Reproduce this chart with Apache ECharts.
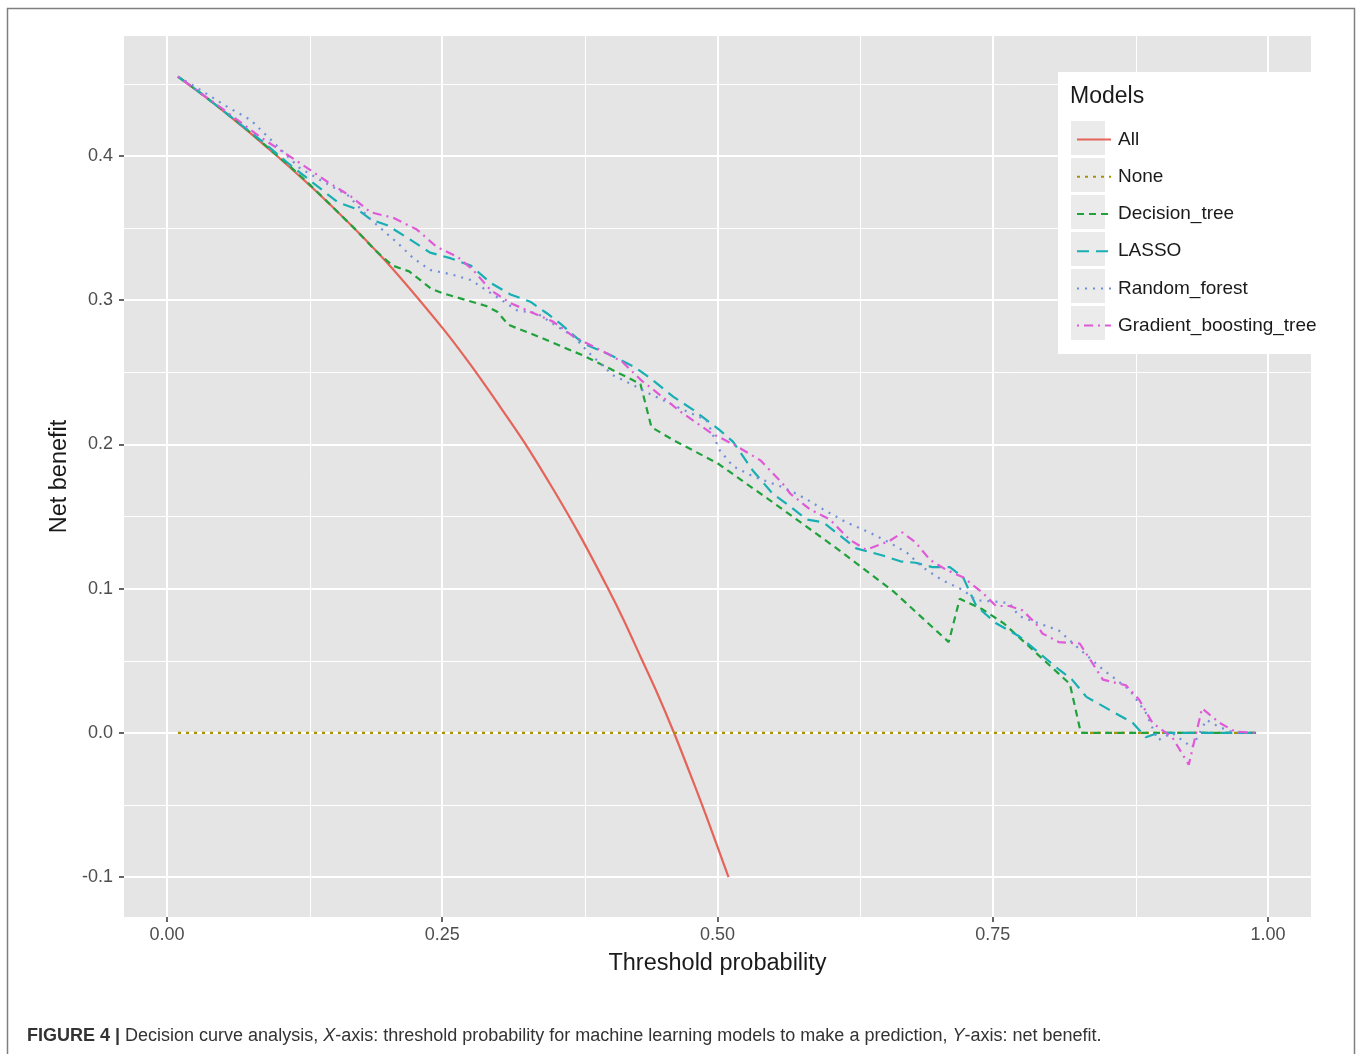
<!DOCTYPE html>
<html>
<head>
<meta charset="utf-8">
<title>Decision curve analysis</title>
<script src="https://cdn.jsdelivr.net/npm/echarts@6/dist/echarts.min.js"></script>
<style>
  html, body { margin: 0; padding: 0; background: #fff; }
  #chart { width: 1358px; height: 1054px; }
</style>
</head>
<body>
<div id="chart"></div>
<script>
// Net benefit curves by threshold probability
const modelNames = ['All', 'None', 'Decision_tree', 'LASSO', 'Random_forest', 'Gradient_boosting_tree'];

const allX = [0.01, 0.05, 0.10, 0.15, 0.20, 0.25, 0.275, 0.30, 0.325, 0.35, 0.375, 0.40, 0.415, 0.43, 0.445, 0.46, 0.475, 0.49, 0.51];
const allY = [0.455, 0.432, 0.400, 0.365, 0.326, 0.281, 0.256, 0.229, 0.201, 0.170, 0.137, 0.101, 0.078, 0.053, 0.028, 0.001, -0.028, -0.058, -0.100];

const noneX = [0.01, 0.99];
const noneY = [0.000, 0.000];

const treeX = [0.01, 0.03, 0.05, 0.07, 0.09, 0.11, 0.13, 0.15, 0.17, 0.19, 0.205, 0.22, 0.24, 0.25, 0.29, 0.30, 0.31, 0.34, 0.38, 0.43, 0.44, 0.46, 0.50, 0.55, 0.61, 0.66, 0.71, 0.72, 0.74, 0.76, 0.79, 0.82, 0.83, 0.99];
const treeY = [0.455, 0.444, 0.432, 0.420, 0.407, 0.394, 0.380, 0.365, 0.350, 0.334, 0.324, 0.320, 0.308, 0.305, 0.296, 0.292, 0.283, 0.274, 0.261, 0.242, 0.212, 0.203, 0.187, 0.160, 0.127, 0.098, 0.063, 0.093, 0.086, 0.076, 0.055, 0.034, 0.000, 0.000];

const lassoX = [0.01, 0.03, 0.05, 0.07, 0.09, 0.11, 0.13, 0.155, 0.173, 0.185, 0.20, 0.221, 0.239, 0.258, 0.276, 0.294, 0.312, 0.33, 0.345, 0.357, 0.378, 0.40, 0.424, 0.439, 0.46, 0.478, 0.502, 0.514, 0.532, 0.55, 0.566, 0.581, 0.596, 0.626, 0.65, 0.666, 0.68, 0.695, 0.711, 0.723, 0.735, 0.753, 0.774, 0.81, 0.822, 0.835, 0.856, 0.877, 0.889, 0.90, 0.99];
const lassoY = [0.455, 0.444, 0.432, 0.420, 0.408, 0.395, 0.383, 0.368, 0.363, 0.356, 0.352, 0.342, 0.333, 0.329, 0.324, 0.312, 0.304, 0.299, 0.291, 0.284, 0.270, 0.263, 0.254, 0.246, 0.233, 0.224, 0.210, 0.202, 0.182, 0.166, 0.157, 0.148, 0.146, 0.128, 0.123, 0.119, 0.118, 0.115, 0.115, 0.108, 0.088, 0.076, 0.067, 0.044, 0.037, 0.025, 0.016, 0.007, -0.003, 0.000, 0.000];

const forestX = [0.01, 0.03, 0.055, 0.076, 0.10, 0.12, 0.14, 0.164, 0.185, 0.209, 0.224, 0.239, 0.258, 0.276, 0.294, 0.318, 0.336, 0.354, 0.369, 0.384, 0.405, 0.424, 0.436, 0.469, 0.49, 0.502, 0.514, 0.532, 0.557, 0.566, 0.581, 0.596, 0.617, 0.638, 0.656, 0.672, 0.686, 0.704, 0.723, 0.735, 0.753, 0.765, 0.774, 0.792, 0.81, 0.826, 0.85, 0.874, 0.889, 0.90, 0.913, 0.931, 0.944, 0.956, 0.97, 0.99];
const forestY = [0.455, 0.446, 0.434, 0.425, 0.407, 0.392, 0.383, 0.373, 0.356, 0.340, 0.329, 0.321, 0.318, 0.314, 0.305, 0.293, 0.291, 0.282, 0.275, 0.263, 0.248, 0.241, 0.236, 0.224, 0.217, 0.196, 0.185, 0.178, 0.171, 0.168, 0.162, 0.155, 0.146, 0.139, 0.132, 0.125, 0.115, 0.106, 0.099, 0.092, 0.091, 0.090, 0.081, 0.076, 0.071, 0.060, 0.044, 0.030, 0.014, -0.005, 0.000, -0.010, 0.009, 0.004, 0.000, 0.000];

const boostX = [0.01, 0.03, 0.05, 0.085, 0.121, 0.146, 0.167, 0.185, 0.206, 0.227, 0.245, 0.264, 0.278, 0.294, 0.312, 0.333, 0.351, 0.369, 0.40, 0.414, 0.43, 0.445, 0.466, 0.481, 0.496, 0.502, 0.517, 0.539, 0.559, 0.566, 0.584, 0.602, 0.62, 0.635, 0.656, 0.668, 0.68, 0.693, 0.708, 0.723, 0.741, 0.753, 0.765, 0.777, 0.789, 0.795, 0.81, 0.829, 0.84, 0.85, 0.871, 0.883, 0.895, 0.913, 0.928, 0.94, 0.956, 0.97, 0.99];
const boostY = [0.455, 0.444, 0.433, 0.413, 0.395, 0.382, 0.372, 0.361, 0.357, 0.349, 0.337, 0.330, 0.321, 0.307, 0.298, 0.291, 0.285, 0.275, 0.263, 0.257, 0.245, 0.236, 0.223, 0.215, 0.207, 0.205, 0.199, 0.189, 0.173, 0.166, 0.155, 0.148, 0.134, 0.127, 0.133, 0.139, 0.132, 0.120, 0.113, 0.108, 0.097, 0.088, 0.088, 0.085, 0.076, 0.069, 0.063, 0.062, 0.049, 0.037, 0.033, 0.023, 0.007, -0.003, -0.022, 0.017, 0.007, 0.001, 0.000];

// Axis breaks
const xMajor = [0, 0.25, 0.5, 0.75, 1];
const xMinor = [0.125, 0.375, 0.625, 0.875];
const yMajor = [-0.1, 0, 0.1, 0.2, 0.3, 0.4];
const yMinor = [-0.05, 0.05, 0.15, 0.25, 0.35, 0.45];

const FONT = '"Liberation Sans", Arial, Helvetica, sans-serif';

const zip = (xs, ys) => xs.map((x, i) => [x, ys[i]]);

const styles = {
  'All':                    { color: '#E4645A', type: 'solid', smooth: true },
  'None':                   { color: '#A99200', type: [3, 5] },
  'Decision_tree':          { color: '#1FA23C', type: [7, 5] },
  'LASSO':                  { color: '#17AFB3', type: [12, 7] },
  'Random_forest':          { color: '#6F8FDB', type: [2, 6] },
  'Gradient_boosting_tree': { color: '#E05AD8', type: [2, 5, 9, 5] }
};
const dataByName = {
  'All': zip(allX, allY),
  'None': zip(noneX, noneY),
  'Decision_tree': zip(treeX, treeY),
  'LASSO': zip(lassoX, lassoY),
  'Random_forest': zip(forestX, forestY),
  'Gradient_boosting_tree': zip(boostX, boostY)
};

// White panel grid lines drawn as mark lines on an invisible helper series
const gridLines = [];
xMajor.forEach(v => gridLines.push({ xAxis: v, lineStyle: { width: 2 } }));
xMinor.forEach(v => gridLines.push({ xAxis: v, lineStyle: { width: 1 } }));
yMajor.forEach(v => gridLines.push({ yAxis: v, lineStyle: { width: 2 } }));
yMinor.forEach(v => gridLines.push({ yAxis: v, lineStyle: { width: 1 } }));

const series = [{
  name: '_grid',
  type: 'line',
  data: [[0, 0]],
  symbol: 'none',
  lineStyle: { opacity: 0 },
  silent: true,
  z: 0,
  markLine: {
    z: 0,
    silent: true,
    symbol: ['none', 'none'],
    label: { show: false },
    lineStyle: { color: '#FFFFFF', type: 'solid' },
    emphasis: { disabled: true },
    animation: false,
    data: gridLines
  }
}];

modelNames.forEach(name => {
  const s = styles[name];
  series.push({
    name: name,
    type: 'line',
    data: dataByName[name],
    symbol: 'none',
    smooth: s.smooth ? 0.3 : false,
    z: 6,
    clip: true,
    color: s.color,
    lineStyle: { color: s.color, width: 2.2, type: s.type },
    emphasis: { disabled: true }
  });
});

// Legend box, title and key backgrounds
const legendGraphics = [
  { type: 'rect', z: 10, shape: { x: 1058, y: 72, width: 253, height: 282 }, style: { fill: '#FFFFFF' } },
  { type: 'text', z: 11, x: 1070, y: 97, style: { text: 'Models', font: '23px ' + FONT, fill: '#1A1A1A', verticalAlign: 'middle' } }
];
modelNames.forEach((n, i) => {
  legendGraphics.push({ type: 'rect', z: 11, shape: { x: 1071, y: 121 + 37 * i, width: 34, height: 34 }, style: { fill: '#EBEBEB' } });
});

const option = {
  animation: false,
  backgroundColor: '#FFFFFF',
  textStyle: { fontFamily: FONT },
  title: {
    left: 22, top: 1022,
    text: '{b|FIGURE 4 |} Decision curve analysis, {i|X}-axis: threshold probability for machine learning models to make a prediction, {i|Y}-axis: net benefit.',
    textStyle: {
      fontSize: 18, fontWeight: 'normal', color: '#333333', fontFamily: FONT,
      rich: {
        b: { fontSize: 18, fontWeight: 'bold', color: '#333333', fontFamily: FONT },
        i: { fontSize: 18, fontStyle: 'italic', color: '#333333', fontFamily: FONT }
      }
    }
  },
  grid: {
    left: 124, top: 36, right: 47, bottom: 137,
    show: true, backgroundColor: '#E5E5E5', borderWidth: 0
  },
  xAxis: {
    type: 'value',
    min: -0.039, max: 1.039,
    splitLine: { show: false },
    axisLine: { show: false, onZero: false },
    axisTick: { show: true, customValues: xMajor, length: 5, lineStyle: { color: '#333333', width: 1.5 } },
    axisLabel: { customValues: xMajor, formatter: v => v.toFixed(2), margin: 9, fontSize: 18, color: '#4D4D4D', fontFamily: FONT },
    name: 'Threshold probability',
    nameLocation: 'middle',
    nameGap: 35,
    nameTextStyle: { fontSize: 23.5, color: '#1A1A1A', fontFamily: FONT }
  },
  yAxis: {
    type: 'value',
    min: -0.1276, max: 0.4832,
    splitLine: { show: false },
    axisLine: { show: false, onZero: false },
    axisTick: { show: true, customValues: yMajor, length: 5, lineStyle: { color: '#333333', width: 1.5 } },
    axisLabel: { customValues: yMajor, formatter: v => v.toFixed(1), margin: 11, fontSize: 18, color: '#4D4D4D', fontFamily: FONT },
    name: 'Net benefit',
    nameLocation: 'middle',
    nameGap: 47,
    nameRotate: 90,
    nameTextStyle: { fontSize: 23.5, color: '#1A1A1A', fontFamily: FONT }
  },
  legend: {
    data: modelNames,
    orient: 'vertical',
    left: 1071, top: 121,
    itemWidth: 34, itemHeight: 34, itemGap: 10,
    z: 20,
    selectedMode: false,
    itemStyle: { opacity: 0 },
    textStyle: { fontSize: 19, color: '#1A1A1A', fontFamily: FONT, padding: [0, 0, 0, 2] }
  },
  graphic: [
    { type: 'rect', z: 0, silent: true, shape: { x: 7.5, y: 8.5, width: 1347, height: 1060 }, style: { fill: 'none', stroke: '#7F7F7F', lineWidth: 1.5 } }
  ].concat(legendGraphics),
  series: series
};

const chart = echarts.init(document.getElementById('chart'), null, { renderer: 'canvas' });
chart.setOption(option);
</script>
</body>
</html>
